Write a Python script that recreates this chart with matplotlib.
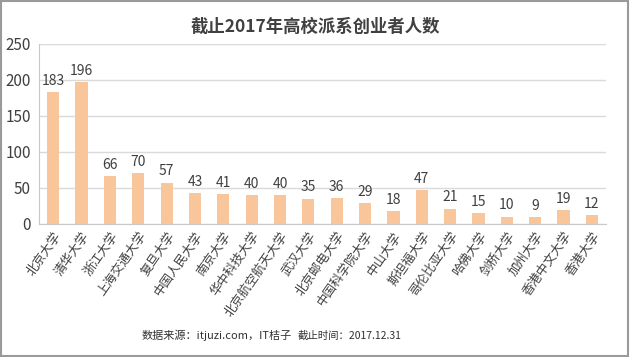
import matplotlib.pyplot as plt
from matplotlib.patches import Rectangle

plt.rcParams['font.family'] = ['Noto Sans CJK SC', 'DejaVu Sans']

schools = ['北京大学', '清华大学', '浙江大学', '上海交通大学', '复旦大学', '中国人民大学',
           '南京大学', '华中科技大学', '北京航空航天大学', '武汉大学', '北京邮电大学',
           '中国科学院大学', '中山大学', '斯坦福大学', '哥伦比亚大学', '哈佛大学',
           '剑桥大学', '加州大学', '香港中文大学', '香港大学']
counts = [183, 196, 66, 70, 57, 43, 41, 40, 40, 35, 36, 29, 18, 47, 21, 15, 10, 9, 19, 12]

fig = plt.figure(figsize=(6.3, 3.57), dpi=100)
ax = fig.add_axes([0.062, 0.373, 0.9, 0.505])

x = list(range(len(schools)))
ax.bar(x, counts, width=0.43, color='#F9C69C', zorder=2)
for xi, v in zip(x, counts):
    ax.text(xi, v + 6, str(v), ha='center', va='bottom', fontsize=10, color='#404040')

ax.set_xlim(-0.5, len(schools) - 0.5)
ax.set_ylim(0, 250)
ax.set_yticks([0, 50, 100, 150, 200, 250])
ax.grid(axis='y', color='#DADADA', linewidth=1, zorder=0)
ax.set_xticks(x)
ax.set_xticklabels(schools, rotation=55, ha='right', rotation_mode='anchor',
                   fontsize=9, color='#404040')
ax.tick_params(axis='y', labelsize=11, labelcolor='#404040', length=0, pad=6)
ax.tick_params(axis='x', length=0, pad=4)
for s in ['top', 'right']:
    ax.spines[s].set_visible(False)
ax.spines['left'].set_color('#C8C8C8')
ax.spines['bottom'].set_color('#C8C8C8')

fig.text(0.5, 0.925, '截止2017年高校派系创业者人数', ha='center', va='center',
         fontsize=12.5, fontweight='bold', color='#404040')
fig.text(0.225, 0.06, '数据来源：itjuzi.com，IT桔子', ha='left', va='center',
         fontsize=8, color='#303030')
fig.text(0.473, 0.06, '截止时间：2017.12.31', ha='left', va='center',
         fontsize=7.5, color='#303030')

fig.patches.append(Rectangle((0.002, 0.003), 0.995, 0.993, transform=fig.transFigure,
                             fill=False, edgecolor='#9A9A9A', linewidth=1.5))

fig.savefig('out.png', dpi=100)
